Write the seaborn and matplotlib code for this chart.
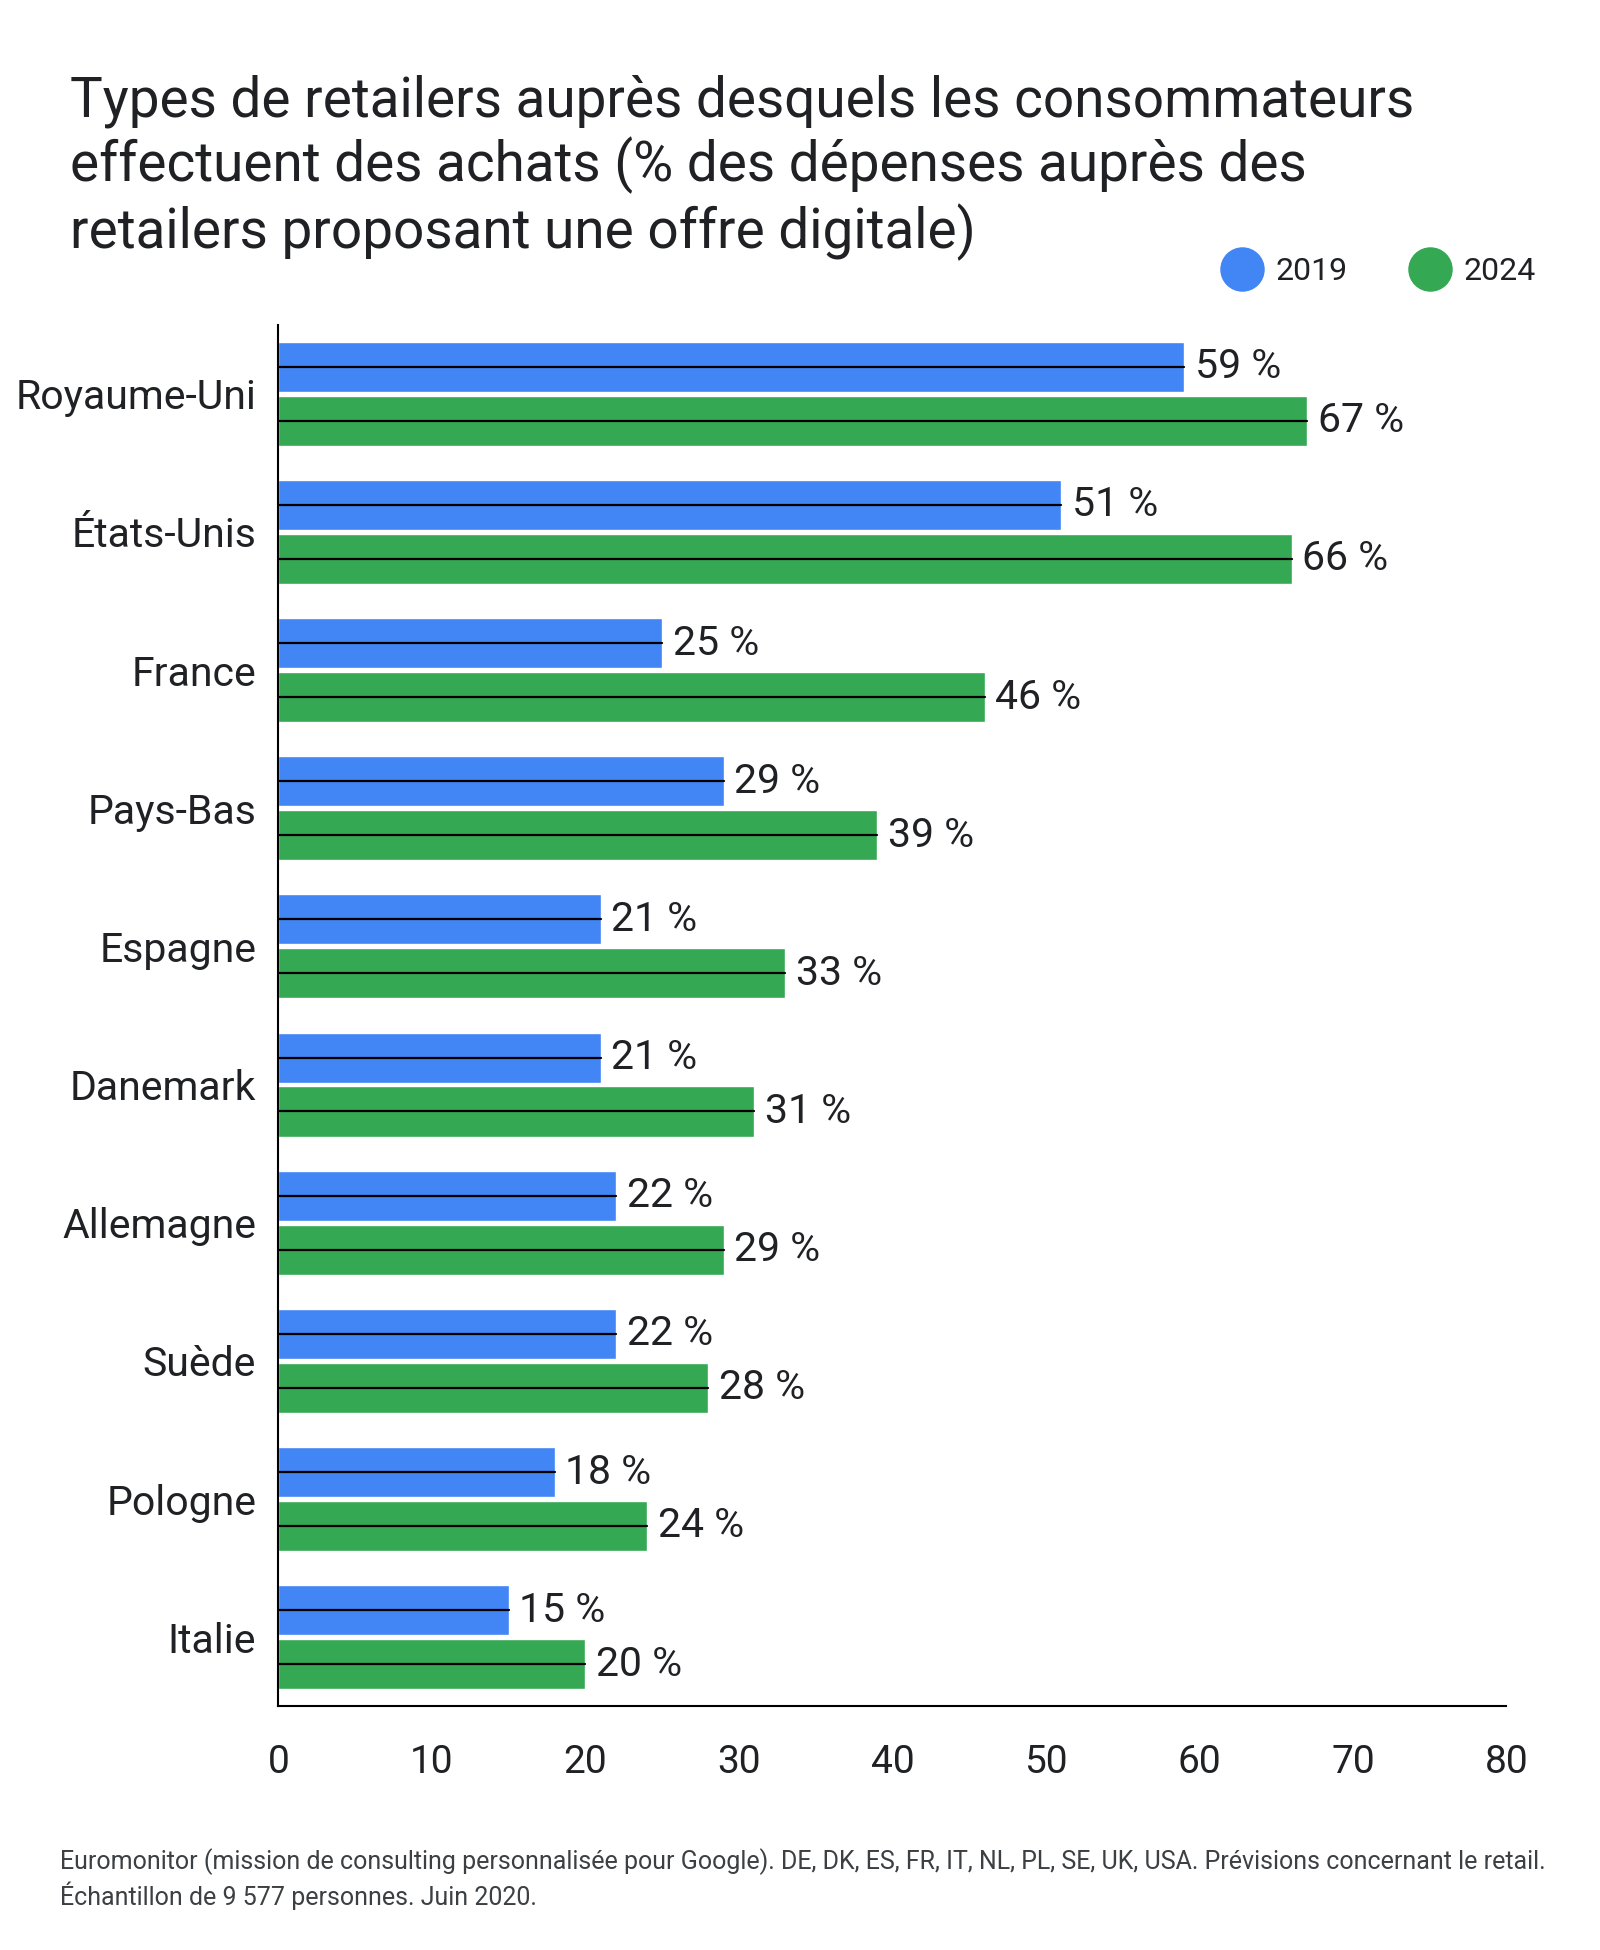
import pandas as pd
import matplotlib.pyplot as plt
from matplotlib.lines import Line2D
import seaborn as sns

# Data
countries = ["Royaume-Uni", "États-Unis", "France", "Pays-Bas", "Espagne",
             "Danemark", "Allemagne", "Suède", "Pologne", "Italie"]
values_2019 = [59, 51, 25, 29, 21, 21, 22, 22, 18, 15]
values_2024 = [67, 66, 46, 39, 33, 31, 29, 28, 24, 20]
years = ["2019", "2024"]
x_ticks = [0, 10, 20, 30, 40, 50, 60, 70, 80]

title = ("Types de retailers auprès desquels les consommateurs\n"
         "effectuent des achats (% des dépenses auprès des\n"
         "retailers proposant une offre digitale)")
source = ("Euromonitor (mission de consulting personnalisée pour Google). DE, DK, ES, FR, IT, NL, PL, SE, UK, USA. "
          "Prévisions concernant le retail.\nÉchantillon de 9 577 personnes. Juin 2020.")

colors = {"2019": "#4285F4", "2024": "#34A853"}
text_color = "#202124"

df = pd.DataFrame({
    "Pays": countries * 2,
    "Année": [years[0]] * len(countries) + [years[1]] * len(countries),
    "Valeur": values_2019 + values_2024,
})

sns.set_style("white")
plt.rcParams['font.family'] = ['Roboto', 'DejaVu Sans']

fig = plt.figure(figsize=(16, 19.5), dpi=100)
ax = fig.add_axes([0.174, 0.125, 0.7675, 0.7085])

sns.barplot(
    data=df, x="Valeur", y="Pays", hue="Année",
    order=countries, hue_order=years, palette=colors,
    orient="h", width=0.78, gap=0.07, saturation=1,
    errorbar=None, legend=False, ax=ax,
)

# thin black line through the middle of each bar, plus value labels
for p in ax.patches:
    w = p.get_width()
    yc = p.get_y() + p.get_height() / 2
    ax.plot([0, w], [yc, yc], color="black", lw=1.6, zorder=3)
    ax.text(w + 0.7, yc, f"{w:.0f} %", va="center", ha="left",
            fontsize=29.5, color=text_color)

ax.set_xlim(0, 80)
ax.set_ylim(len(countries) - 0.5, -0.5)
ax.set_xticks(x_ticks)
ax.set_xlabel("")
ax.set_ylabel("")
ax.tick_params(axis="x", length=0, pad=27, labelsize=28, labelcolor=text_color)
ax.tick_params(axis="y", length=0, pad=16, labelsize=29.5, labelcolor=text_color)
for s in ["top", "right"]:
    ax.spines[s].set_visible(False)
for s in ["left", "bottom"]:
    ax.spines[s].set_color("black")
    ax.spines[s].set_linewidth(1.5)

# Legend with round markers
handles = [Line2D([], [], marker="o", linestyle="", markersize=31,
                  markerfacecolor=colors[y], markeredgecolor=colors[y]) for y in years]
fig.legend(handles, years, loc="center right", bbox_to_anchor=(0.978, 1 - 272 / 1950),
           ncol=2, frameon=False, fontsize=23, handletextpad=0.05,
           columnspacing=1.6, labelcolor=text_color)

fig.text(0.044, 0.962, title, ha="left", va="top", fontsize=39.5,
         color=text_color, linespacing=1.2)
fig.text(0.0375, 0.052, source, ha="left", va="top", fontsize=18,
         color="#3c4043", linespacing=1.25)

fig.savefig("out.png", dpi=100)
